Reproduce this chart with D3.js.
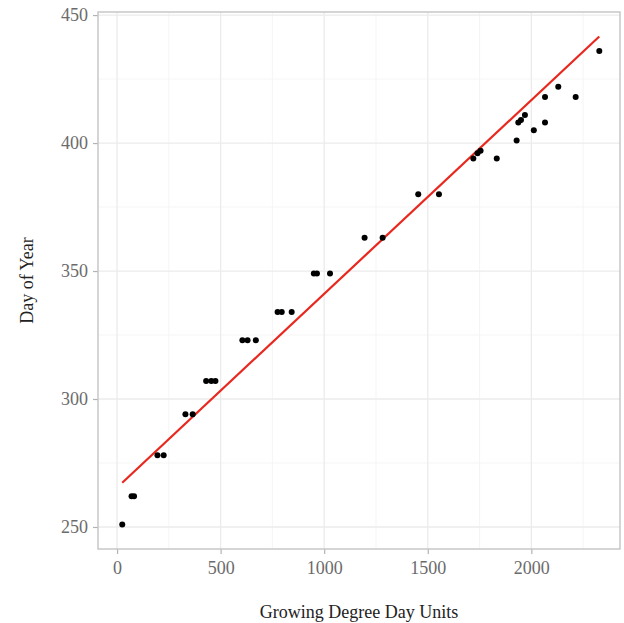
<!DOCTYPE html>
<html>
<head>
<meta charset="utf-8">
<script src="https://cdn.jsdelivr.net/npm/d3@7"></script>
<style>
  body { margin: 0; background: #fff; }
  svg text { font-family: "Liberation Serif", "DejaVu Serif", serif; }
</style>
</head>
<body>
<div id="graph"></div>
<script>
// growing degree day units vs day of year
var gdd = [25, 70, 82, 195, 225, 330, 365, 430, 455, 475, 605, 630, 670,
    775, 795, 843, 950, 965, 1028, 1195, 1282, 1454, 1554,
    1720, 1740, 1755, 1833, 1929, 1937, 1950, 1969, 2012, 2066, 2066,
    2130, 2214, 2328];
var doy = [251, 262, 262, 278, 278, 294, 294, 307, 307, 307, 323, 323, 323,
    334, 334, 334, 349, 349, 349, 363, 363, 380, 380,
    394, 396, 397, 394, 401, 408, 409, 411, 405, 408, 418,
    422, 418, 436];
// fitted line as drawn in the original (intercept, slope per GDD unit)
var fitIntercept = 265.4;
var fitSlope = 0.0757;
var xTicks = [0, 500, 1000, 1500, 2000];
var yTicks = [250, 300, 350, 400, 450];
var xMinor = [250, 750, 1250, 1750, 2250];
var yMinor = [275, 325, 375, 425];

var W = 624, H = 623;
var margins = {left: 98, right: 4, top: 12, bottom: 74};
var width = W - margins.left - margins.right;
var height = H - margins.top - margins.bottom;

var svg = d3.select("#graph").append("svg")
    .attr("width", W)
    .attr("height", H);

var x = d3.scaleLinear().domain([-92, 2428]).range([0, width]);
var y = d3.scaleLinear().domain([241.4, 451.2]).range([height, 0]);

var g = svg.append("g")
    .attr("transform", "translate(" + margins.left + "," + margins.top + ")");

// grid
g.selectAll(".xminor").data(xMinor).enter().append("line")
    .attr("x1", d => x(d)).attr("x2", d => x(d))
    .attr("y1", 0).attr("y2", height)
    .attr("stroke", "#f2f2f2").attr("stroke-width", 0.8);
g.selectAll(".yminor").data(yMinor).enter().append("line")
    .attr("y1", d => y(d)).attr("y2", d => y(d))
    .attr("x1", 0).attr("x2", width)
    .attr("stroke", "#f2f2f2").attr("stroke-width", 0.8);
g.selectAll(".xmajor").data(xTicks).enter().append("line")
    .attr("x1", d => x(d)).attr("x2", d => x(d))
    .attr("y1", 0).attr("y2", height)
    .attr("stroke", "#ebebeb").attr("stroke-width", 1.3);
g.selectAll(".ymajor").data(yTicks).enter().append("line")
    .attr("y1", d => y(d)).attr("y2", d => y(d))
    .attr("x1", 0).attr("x2", width)
    .attr("stroke", "#ebebeb").attr("stroke-width", 1.3);

// axes
var xAxis = g.append("g")
    .attr("transform", "translate(0," + height + ")")
    .call(d3.axisBottom(x).tickValues(xTicks).tickSize(5).tickPadding(7).tickFormat(d3.format("d")));
var yAxis = g.append("g")
    .call(d3.axisLeft(y).tickValues(yTicks).tickSize(5).tickPadding(5));
[xAxis, yAxis].forEach(function(a) {
    a.select(".domain").remove();
    a.selectAll("line").attr("stroke", "#b3b3b3").attr("stroke-width", 1.2);
    a.selectAll("text").attr("fill", "#6b6b6b").style("font-size", "18px")
        .style("font-family", '"Liberation Serif", serif');
});

// fitted line over the data range
var ext = d3.extent(gdd);
g.append("line")
    .attr("x1", x(ext[0])).attr("y1", y(fitIntercept + fitSlope * ext[0]))
    .attr("x2", x(ext[1])).attr("y2", y(fitIntercept + fitSlope * ext[1]))
    .attr("stroke", "#e8281e").attr("stroke-width", 2.2);

// points
g.selectAll(".pt").data(gdd).enter().append("circle")
    .attr("cx", d => x(d))
    .attr("cy", (d, i) => y(doy[i]))
    .attr("r", 3)
    .attr("fill", "#000");

// panel border
g.append("rect")
    .attr("width", width).attr("height", height)
    .attr("fill", "none").attr("stroke", "#c4c4c4").attr("stroke-width", 1.4);

// titles
svg.append("text")
    .attr("x", margins.left + width / 2).attr("y", 618)
    .attr("text-anchor", "middle")
    .attr("fill", "#222")
    .style("font-size", "18px")
    .text("Growing Degree Day Units");
svg.append("text")
    .attr("transform", "translate(33," + (margins.top + height / 2) + ") rotate(-90)")
    .attr("text-anchor", "middle")
    .attr("fill", "#222")
    .style("font-size", "18px")
    .text("Day of Year");
</script>
</body>
</html>
